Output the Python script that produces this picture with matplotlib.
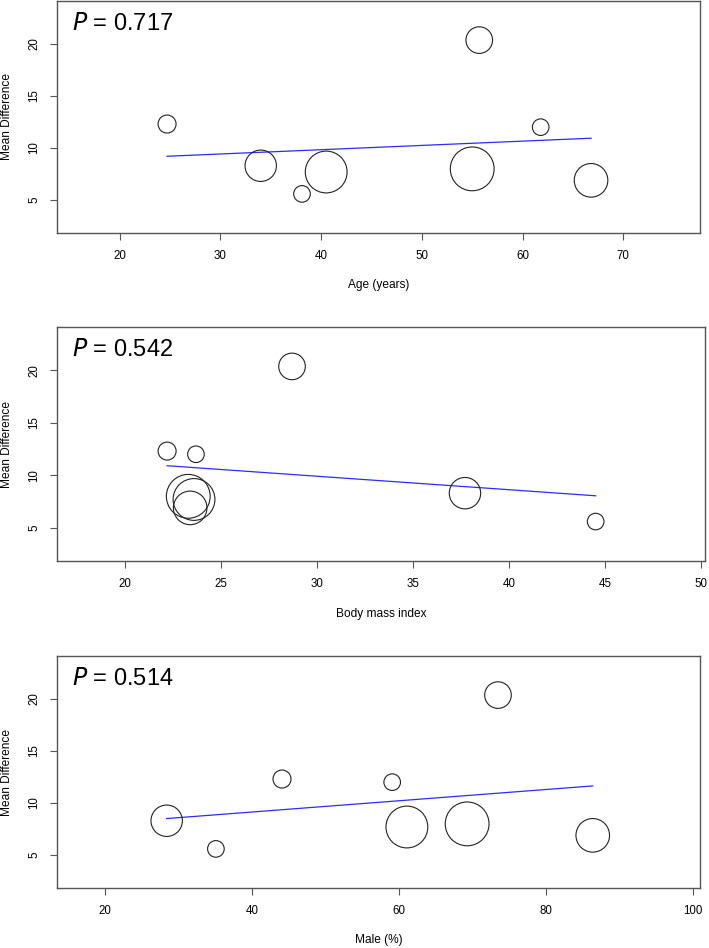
import numpy as np
import matplotlib
matplotlib.use('Agg')
import matplotlib.pyplot as plt

plt.rcParams['font.family'] = ['Liberation Sans', 'DejaVu Sans']

# dados (8 estudos)
idade = [24.7, 34.0, 38.1, 40.5, 55.0, 55.7, 61.8, 66.8]
imc = [22.2, 37.7, 44.5, 23.6, 23.3, 28.7, 23.7, 23.4]
masculino = [44.1, 28.4, 35.1, 61.1, 69.3, 73.5, 59.1, 86.4]
diferenca_media = [12.3, 8.3, 5.6, 7.7, 8.0, 20.35, 12.0, 6.9]
pesos = [9.0, 15.7, 8.3, 20.9, 21.9, 13.3, 8.3, 16.8]

# retas de regressão (valor ajustado no menor e maior x)
ajuste_idade = [9.21, 10.94]
ajuste_imc = [10.91, 8.05]
ajuste_masculino = [8.51, 11.64]

valores_p = ['0.717', '0.542', '0.514']
rotulos_x = ['Age (years)', 'Body mass index', 'Male (%)']

W, H = 709, 948
fig = plt.figure(figsize=(W / 100, H / 100), dpi=100)

# caixas dos painéis em pixels: esquerda, topo, direita, base
caixas = [(57, 1, 700, 233), (57, 327, 705, 561), (57, 656, 700, 888)]
limites_x = [(13.77, 77.62), (16.47, 50.19), (13.47, 101.0)]
ticks_x = [[20, 30, 40, 50, 60, 70], [20, 25, 30, 35, 40, 45, 50], [20, 40, 60, 80, 100]]
xs = [idade, imc, masculino]
ajustes = [ajuste_idade, ajuste_imc, ajuste_masculino]

cinza = '#555555'
# raio em px -> área do marcador em pt^2
tamanhos = [(2 * r * 0.72) ** 2 for r in pesos]

for i in range(3):
    e, t, d, b = caixas[i]
    ax = fig.add_axes([e / W, 1 - b / H, (d - e) / W, (b - t) / H])
    x = xs[i]
    x_reta = [min(x), max(x)]
    ax.plot(x_reta, ajustes[i], color='#2b2bff', lw=0.9, zorder=1)
    ax.scatter(x, diferenca_media, s=tamanhos, facecolors='none',
               edgecolors='#222222', linewidths=0.8, zorder=2)
    ax.set_xlim(limites_x[i])
    ax.set_ylim(1.85, 24.1)
    ax.set_xticks(ticks_x[i])
    ax.set_yticks([5, 10, 15, 20])
    for lado in ax.spines.values():
        lado.set_color(cinza)
        lado.set_linewidth(1.0)
    ax.tick_params(direction='out', length=5, width=0.8, color=cinza,
                   labelsize=8.3, pad=7)
    for lbl in ax.get_yticklabels():
        lbl.set_rotation(90)
        lbl.set_va('center')
    ax.set_xlabel(rotulos_x[i], fontsize=8.6)
    ax.set_ylabel('Mean Difference', fontsize=8.6)
    ax.xaxis.set_label_coords(0.5, -0.2)
    ax.yaxis.set_label_coords(-0.068, 0.5)
    ax.text((72 - e) / (d - e), 1 - (30 - 1) / 232, r'$\it{P}$ = ' + valores_p[i],
            transform=ax.transAxes, fontsize=17, ha='left', va='baseline')

plt.savefig('out.png', dpi=100)
